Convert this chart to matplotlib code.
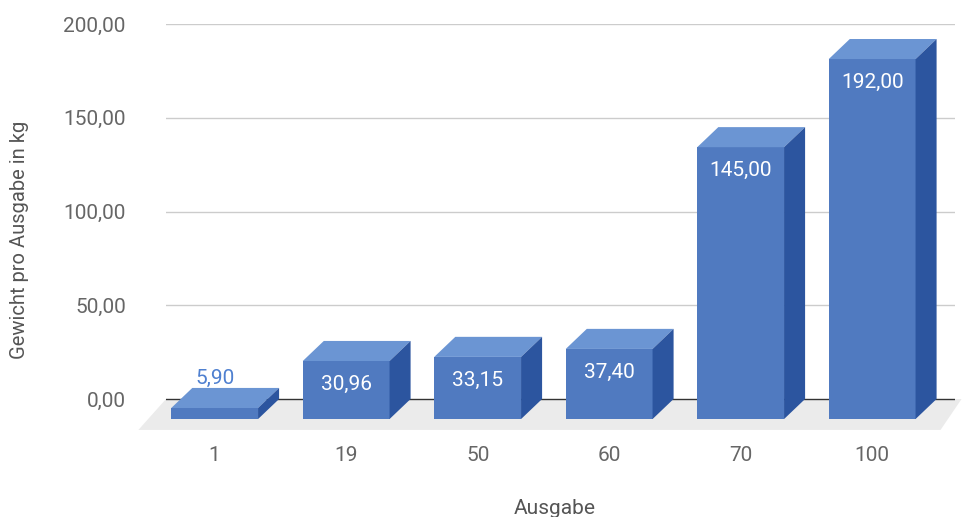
import matplotlib.pyplot as plt
from matplotlib.patches import Polygon

plt.rcParams['font.family'] = ['Roboto', 'DejaVu Sans']

# data
ausgaben = ["1", "19", "50", "60", "70", "100"]
gewicht = [5.90, 30.96, 33.15, 37.40, 145.00, 192.00]
yticks = [0, 50, 100, 150, 200]

# 3d look
depth_x = 0.16      # in category units
depth_y = 10.7      # in value units
front_shift = -0.13
bar_w = 0.66

c_front = "#507ac0"
c_top = "#6b95d3"
c_side = "#2c559f"


def fmt(v):
    return ("%.2f" % v).replace(".", ",")


fig = plt.figure(figsize=(9.65, 5.17), dpi=100)
ax = fig.add_axes([166 / 965, (517 - 436.5) / 517, 789 / 965, (436.5 - 24) / 517])
ax.set_xlim(-0.5, 5.5)
ax.set_ylim(-20, 200)

for s in ax.spines.values():
    s.set_visible(False)

# floor
floor = Polygon([(-0.5, 0), (5.55, 0), (5.39, -16.5), (-0.71, -16.5)],
                closed=True, facecolor="#ebebeb", edgecolor="none", zorder=0, clip_on=False)
ax.add_patch(floor)

# gridlines
for v in yticks:
    col = "#333333" if v == 0 else "#cccccc"
    ax.axhline(v, color=col, lw=1, zorder=1)

ax.set_yticks(yticks)
ax.set_yticklabels([fmt(v) for v in yticks])
ax.tick_params(axis="y", length=0, pad=29, labelsize=15, labelcolor="#666666")

# bars
xs = [i + front_shift for i in range(len(gewicht))]
for x, v in zip(xs, gewicht):
    x0 = x - bar_w / 2
    x1 = x + bar_w / 2
    y0 = -depth_y
    y1 = v - depth_y
    ax.add_patch(Polygon([(x0, y0), (x1, y0), (x1, y1), (x0, y1)],
                         facecolor=c_front, edgecolor="none", zorder=3, clip_on=False))
    ax.add_patch(Polygon([(x0, y1), (x1, y1), (x1 + depth_x, v), (x0 + depth_x, v)],
                         facecolor=c_top, edgecolor="none", zorder=3, clip_on=False))
    ax.add_patch(Polygon([(x1, y0), (x1 + depth_x, 0), (x1 + depth_x, v), (x1, y1)],
                         facecolor=c_side, edgecolor="none", zorder=3, clip_on=False))
    if v > 20:
        ax.text(x, y1 - 12.5, fmt(v), ha="center", va="center", color="white",
                fontsize=15, zorder=4)
    else:
        ax.text(x, v + 5.3, fmt(v), ha="center", va="center", color="#4f80d0",
                fontsize=15, zorder=4)

ax.set_xticks(xs)
ax.set_xticklabels(ausgaben)
ax.tick_params(axis="x", length=0, pad=7, labelsize=15, labelcolor="#666666")

ax.set_xlabel("Ausgabe", fontsize=15, color="#555555", va="center")
ax.set_ylabel("Gewicht pro Ausgabe in kg", fontsize=14.5, color="#555555", va="center")
ax.xaxis.set_label_coords((555 - 166) / 789, (436.5 - 509) / 412.5)
ax.yaxis.set_label_coords((20 - 166) / 789, (436.5 - 240) / 412.5)

fig.savefig("out.png", dpi=100)
